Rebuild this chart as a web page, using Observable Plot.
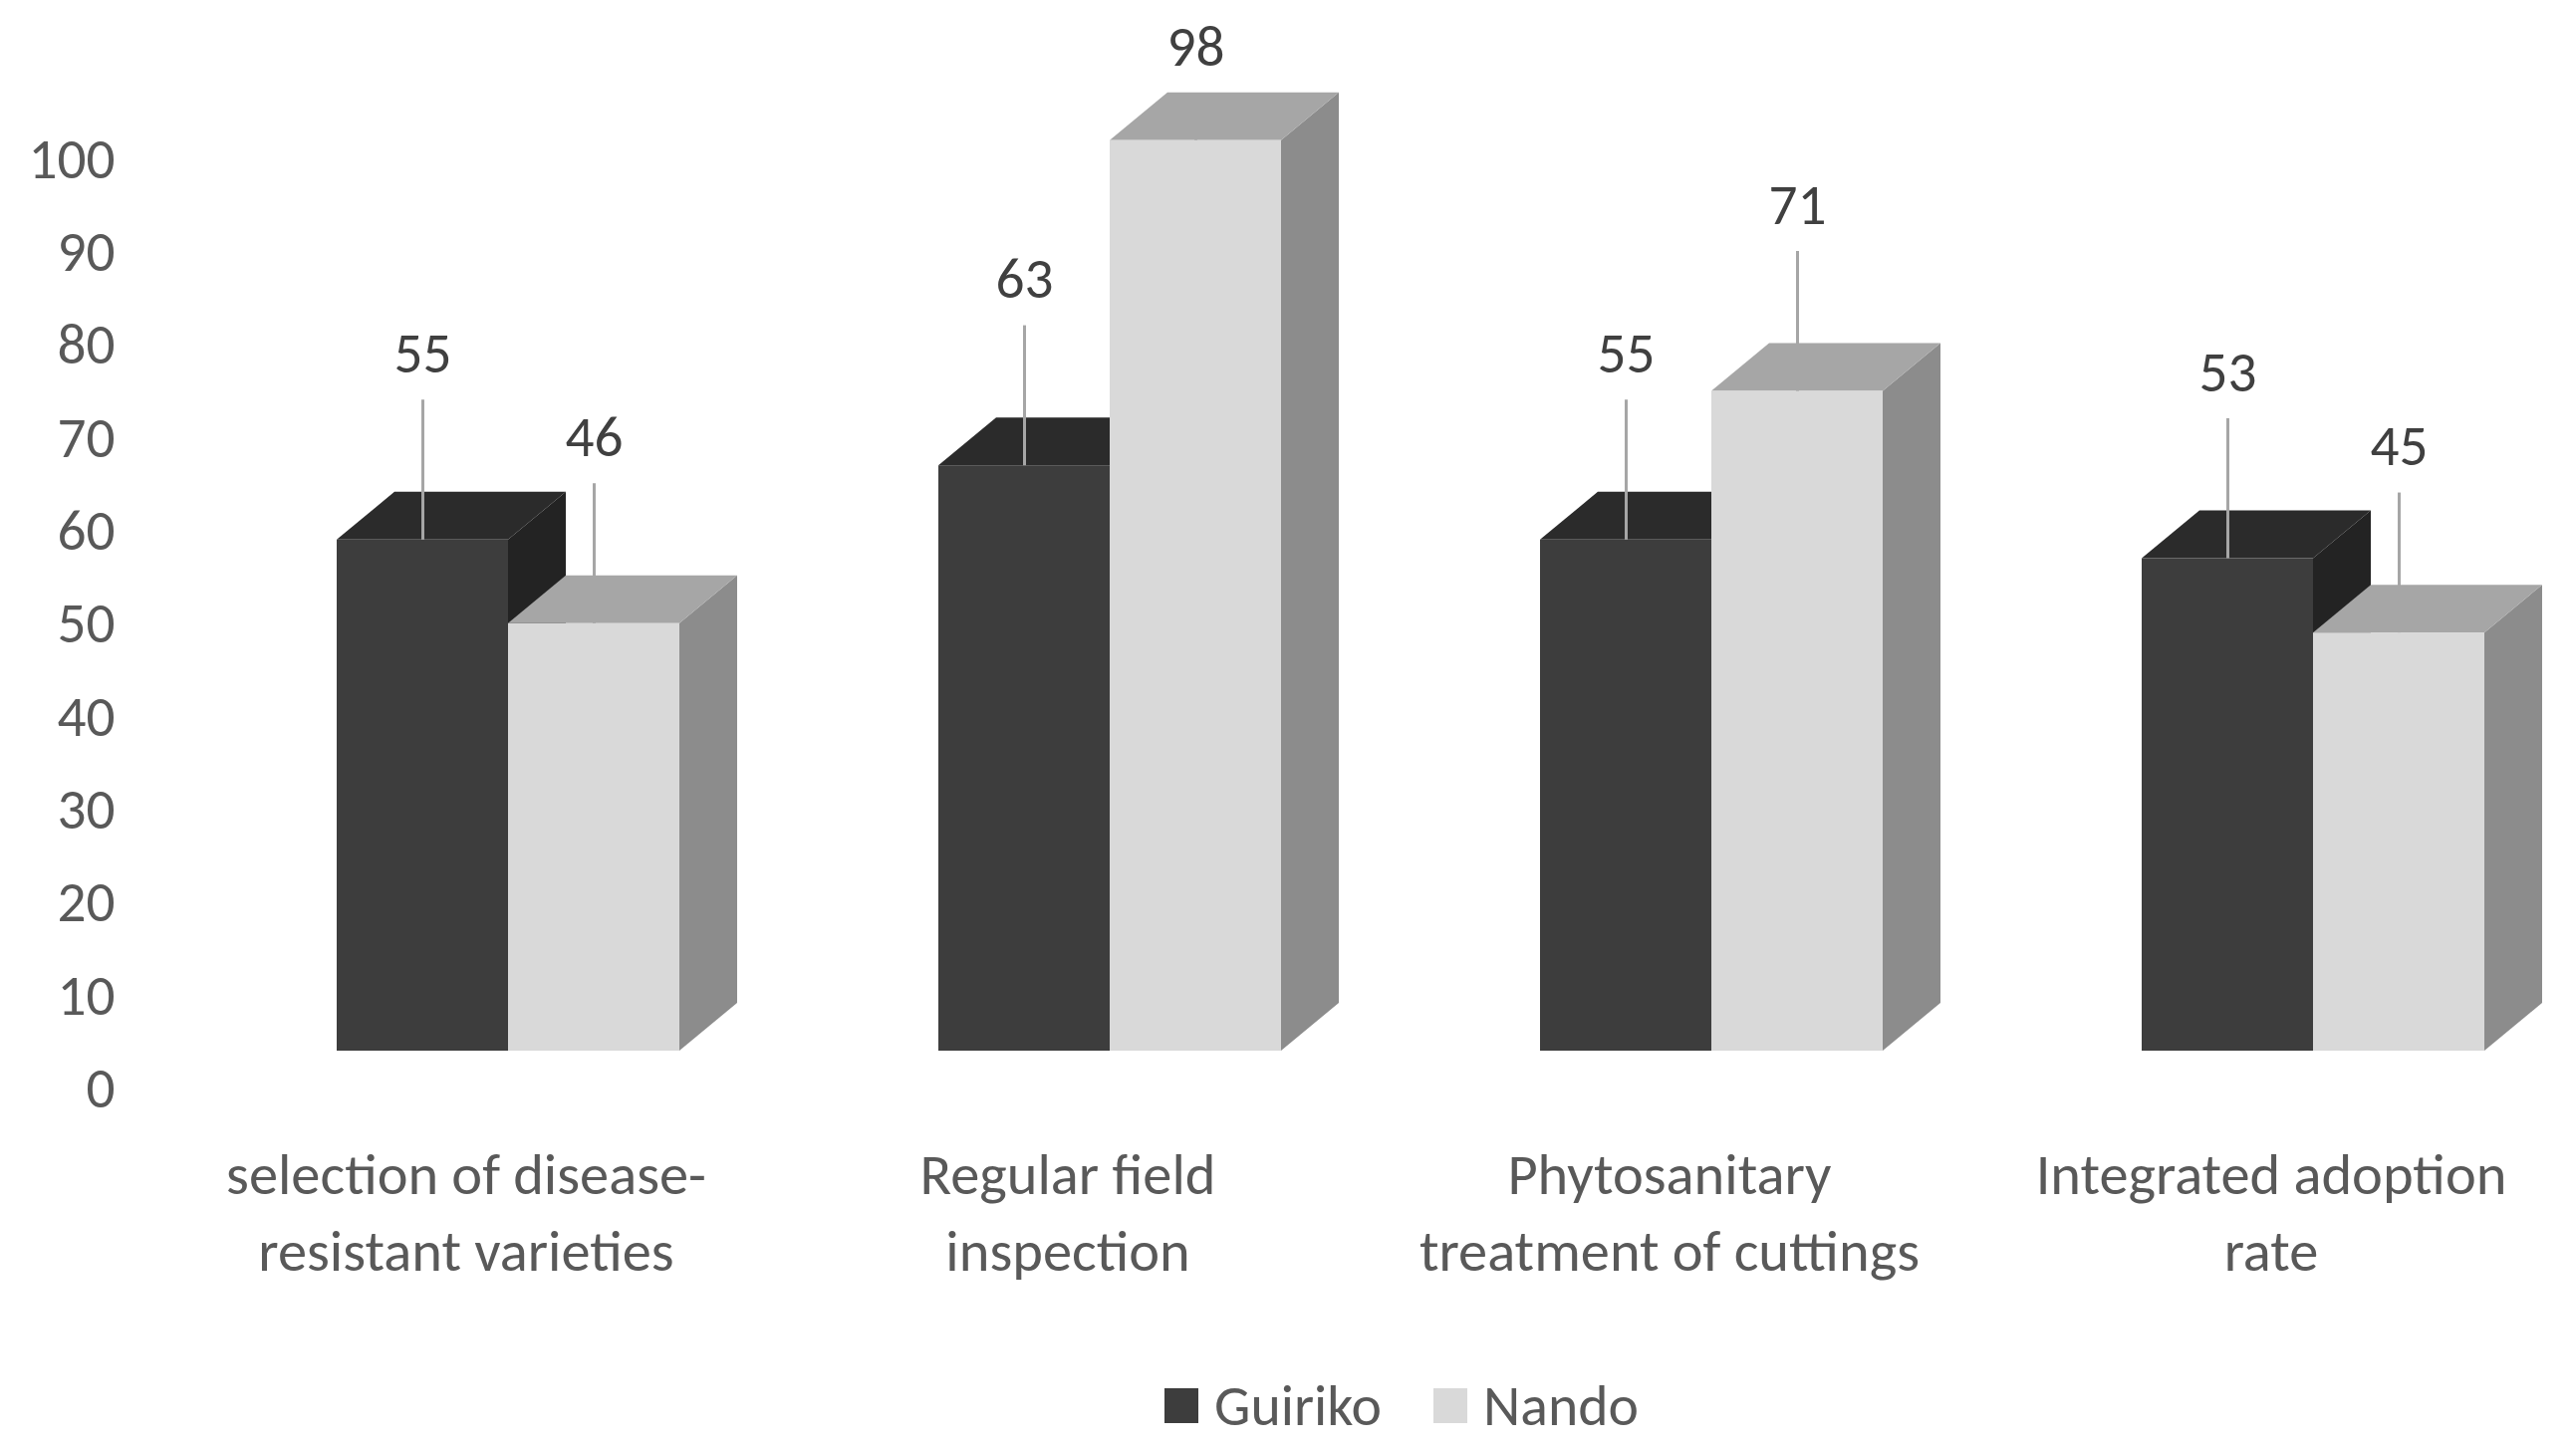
<!DOCTYPE html>
<html>
<head>
<meta charset="utf-8">
<script src="https://cdn.jsdelivr.net/npm/d3@7"></script>
<script src="https://cdn.jsdelivr.net/npm/@observablehq/plot@0.6"></script>
<style>
  html, body { margin: 0; padding: 0; background: #fff; }
  body { width: 2586px; height: 1455px; overflow: hidden; }
  #legend { height: 115px; display: flex; justify-content: center; align-items: center; padding-left: 228px; box-sizing: border-box; padding-top: 27px; color: #595959; }
  .item { display: flex; align-items: center; margin: 0 26px; }
  .sw { width: 34px; height: 35px; margin-right: 16px; }
</style>
</head>
<body>
<div id="chart"></div>
<div id="legend"></div>
<script>
const categories = [
  "selection of disease-\nresistant varieties",
  "Regular field\ninspection",
  "Phytosanitary\ntreatment of cuttings",
  "Integrated adoption\nrate"
];
const series = ["Guiriko", "Nando"];
const guiriko = [55, 63, 55, 53];
const nando = [46, 98, 71, 45];
const yTicks = [0, 10, 20, 30, 40, 50, 60, 70, 80, 90, 100];

const frontColors = ["#3d3d3d", "#d9d9d9"];
const topColors = ["#2b2b2b", "#a6a6a6"];
const sideColors = ["#232323", "#8c8c8c"];

const data = categories.flatMap((c, i) => [
  {category: c, series: "Guiriko", value: guiriko[i]},
  {category: c, series: "Nando", value: nando[i]}
]);

// pick an installed Calibri-like font and size text to the reference widths
const ctx = document.createElement("canvas").getContext("2d");
function measure(font, text) { ctx.font = font; return ctx.measureText(text).width; }
function hasFont(name) {
  const s = "selection of disease-resistant 0123456789 Guiriko";
  return measure(`72px monospace`, s) !== measure(`72px "${name}", monospace`, s) ||
         measure(`72px serif`, s) !== measure(`72px "${name}", serif`, s);
}
const candidates = ["Carlito", "Lato", "Roboto", "Open Sans", "Noto Sans"];
const fontName = candidates.find(hasFont) || "sans-serif";
const font = `"${fontName}", Lato, sans-serif`;
function fit(text, target) { return 100 * target / measure(`100px ${font}`, text); }
const catSize = fit("selection of disease-", 482);
const tickSize = fit("100", 87);
const valueSize = fit("98", 58);
const legendSize = fit("Guiriko", 168);

const depthX = 58, depthY = 48;
const NS = "http://www.w3.org/2000/svg";
function extrude(index, scales, values, dimensions, context, next) {
  const g = next(index, scales, values, dimensions, context);
  const rects = Array.from(g.querySelectorAll("rect"));
  rects.forEach((r, k) => {
    const i = index[k];
    const s = series.indexOf(data[i].series);
    const x = +r.getAttribute("x"), y = +r.getAttribute("y");
    const w = +r.getAttribute("width"), h = +r.getAttribute("height");
    const side = document.createElementNS(NS, "path");
    side.setAttribute("d", `M${x + w},${y}L${x + w + depthX},${y - depthY}L${x + w + depthX},${y + h - depthY}L${x + w},${y + h}Z`);
    side.setAttribute("fill", sideColors[s]);
    const top = document.createElementNS(NS, "path");
    top.setAttribute("d", `M${x},${y}L${x + depthX},${y - depthY}L${x + w + depthX},${y - depthY}L${x + w},${y}Z`);
    top.setAttribute("fill", topColors[s]);
    r.parentNode.insertBefore(side, r);
    r.parentNode.insertBefore(top, r);
  });
  return g;
}

const labelY = d => Math.min(d.value + 20, 108);

const chart = Plot.plot({
  width: 2586,
  height: 1340,
  marginLeft: 337,
  marginRight: 88,
  marginTop: 122,
  marginBottom: 285,
  style: {fontFamily: font, background: "#fff"},
  fx: {domain: categories, paddingInner: 0.428, paddingOuter: 0, align: 0, label: null},
  x: {domain: series, padding: 0, axis: null},
  y: {domain: [0, 100], nice: false},
  color: {domain: series, range: frontColors},
  marks: [
    Plot.axisY({ticks: yTicks, tickSize: 0, tickPadding: 222, dy: 38, fontSize: tickSize, color: "#595959", label: null}),
    Plot.axisFx({anchor: "bottom", tickSize: 0, tickPadding: 89, dx: -42, fontSize: catSize, lineHeight: 1.32, color: "#595959", label: null}),
    Plot.barY(data, {fx: "category", x: "series", y: "value", fill: "series", render: extrude}),
    Plot.ruleX(data, {fx: "category", x: "series", y1: labelY, y2: "value", stroke: "#a6a6a6", strokeWidth: 3, insetTop: 46}),
    Plot.text(data, {fx: "category", x: "series", y: labelY, text: d => String(d.value), fontSize: valueSize, fill: "#404040"})
  ]
});
document.getElementById("chart").appendChild(chart);

const legend = document.getElementById("legend");
legend.style.fontFamily = font;
legend.style.fontSize = legendSize + "px";
series.forEach((s, i) => {
  const item = document.createElement("div");
  item.className = "item";
  const sw = document.createElement("span");
  sw.className = "sw";
  sw.style.background = frontColors[i];
  const t = document.createElement("span");
  t.textContent = s;
  item.appendChild(sw);
  item.appendChild(t);
  legend.appendChild(item);
});
</script>
</body>
</html>
